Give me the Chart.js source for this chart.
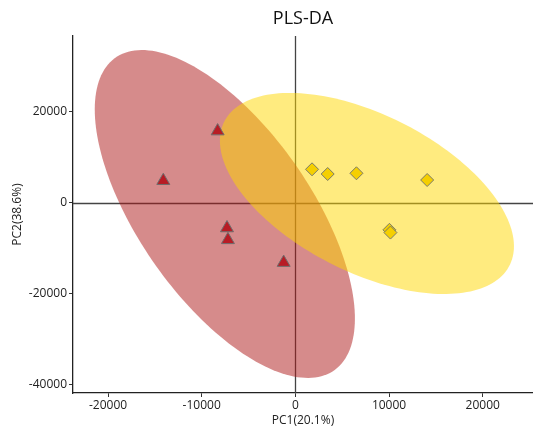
<!DOCTYPE html>
<html>
<head>
<meta charset="utf-8">
<script src="https://cdn.jsdelivr.net/npm/chart.js@4"></script>
<style>
  html, body { margin: 0; padding: 0; background: #fff; }
  canvas { display: block; }
</style>
</head>
<body>
<canvas id="c" width="533" height="435" style="width:533px;height:435px"></canvas>
<script>
// ---- data ----
const chartTitle = "PLS-DA";
const xTitle = "PC1(20.1%)";
const yTitle = "PC2(38.6%)";
const xTicks = [-20000, -10000, 0, 10000, 20000];
const yTicks = [20000, 0, -20000, -40000];

const groupA_x = [-8300, -14100, -7300, -7200, -1250];
const groupA_y = [15800, 4900, -5500, -8100, -13100];
const groupB_x = [1780, 3450, 6520, 14070, 10040, 10150];
const groupB_y = [7400, 6370, 6530, 5050, -5900, -6500];

// confidence ellipses (data units): centre, semi-axes, rotation (deg)
const ellipseA = [-7530, -2420, 37200, 10360, 105];
const ellipseB = [7640, 2090, 24200, 12200, 118.2];

const toPts = (xs, ys) => xs.map((x, i) => ({ x: x, y: ys[i] }));

const bgPlugin = {
  id: 'bg',
  beforeDatasetsDraw(chart) {
    const { ctx, chartArea: a, scales: { x, y } } = chart;
    ctx.save();
    ctx.strokeStyle = '#444';
    ctx.lineWidth = 1.3;
    const x0 = Math.round(x.getPixelForValue(0)) + 0.5;
    const y0 = Math.round(y.getPixelForValue(0)) + 0.5;
    ctx.beginPath();
    ctx.moveTo(x0, a.top); ctx.lineTo(x0, a.bottom);
    ctx.moveTo(a.left, y0); ctx.lineTo(a.right, y0);
    ctx.stroke();
    const drawEll = (e, color) => {
      const [cx, cy, ra, rb, deg] = e;
      const th = deg * Math.PI / 180;
      ctx.beginPath();
      for (let i = 0; i <= 180; i++) {
        const t = i / 180 * 2 * Math.PI;
        const u = ra * Math.cos(t), v = rb * Math.sin(t);
        const dx = cx + u * Math.cos(th) - v * Math.sin(th);
        const dy = cy + u * Math.sin(th) + v * Math.cos(th);
        const px = x.getPixelForValue(dx), py = y.getPixelForValue(dy);
        if (i === 0) ctx.moveTo(px, py); else ctx.lineTo(px, py);
      }
      ctx.closePath();
      ctx.fillStyle = color;
      ctx.fill();
    };
    drawEll(ellipseA, 'rgba(173,23,23,0.5)');
    drawEll(ellipseB, 'rgba(255,215,0,0.5)');
    ctx.restore();
  }
};

const titlePlugin = {
  id: 'ttl',
  afterDraw(chart) {
    const { ctx, chartArea: a } = chart;
    ctx.save();
    ctx.font = '18px "Open Sans"';
    ctx.fillStyle = '#111';
    ctx.textAlign = 'center';
    ctx.textBaseline = 'middle';
    ctx.fillText(chartTitle, (a.left + a.right) / 2, 19);
    ctx.restore();
  }
};

const tickFont = { family: 'Open Sans', size: 12 };

new Chart(document.getElementById('c'), {
  type: 'scatter',
  data: {
    datasets: [
      {
        data: toPts(groupA_x, groupA_y),
        pointStyle: 'triangle',
        pointRadius: 7.5,
        pointHoverRadius: 7.5,
        backgroundColor: '#b81c25',
        borderColor: '#6e6e6e',
        borderWidth: 1
      },
      {
        data: toPts(groupB_x, groupB_y),
        pointStyle: 'rectRot',
        pointRadius: 6.5,
        pointHoverRadius: 6.5,
        backgroundColor: '#f5cf00',
        borderColor: '#7a7a6a',
        borderWidth: 1
      }
    ]
  },
  options: {
    responsive: false,
    maintainAspectRatio: false,
    animation: false,
    devicePixelRatio: 1,
    layout: { autoPadding: false, padding: { top: 36, right: 0, left: 0, bottom: 0 } },
    plugins: { legend: { display: false }, tooltip: { enabled: false }, title: { display: false } },
    scales: {
      x: {
        type: 'linear',
        min: -23740, max: 25370,
        afterBuildTicks(s) { s.ticks = xTicks.map(v => ({ value: v })); },
        afterFit(s) { s.height = 42; },
        grid: { drawOnChartArea: false, drawTicks: true, tickLength: 4, color: '#333' },
        border: { display: true, color: '#222', width: 1.3 },
        ticks: { font: tickFont, color: '#222', padding: 1, maxRotation: 0, callback: v => String(v) },
        title: { display: true, text: xTitle, font: tickFont, color: '#222', padding: { top: 0, bottom: 7 } }
      },
      y: {
        type: 'linear',
        min: -41760, max: 36700,
        afterBuildTicks(s) { s.ticks = yTicks.map(v => ({ value: v })); },
        afterFit(s) { s.width = 73; },
        grid: { drawOnChartArea: false, drawTicks: true, tickLength: 4, color: '#333' },
        border: { display: true, color: '#222', width: 1.3 },
        ticks: { font: tickFont, color: '#222', padding: 2, callback: v => String(v) },
        title: { display: true, text: yTitle, font: tickFont, color: '#222', padding: { top: 10, bottom: 0 } }
      }
    }
  },
  plugins: [bgPlugin, titlePlugin]
});
</script>
</body>
</html>
